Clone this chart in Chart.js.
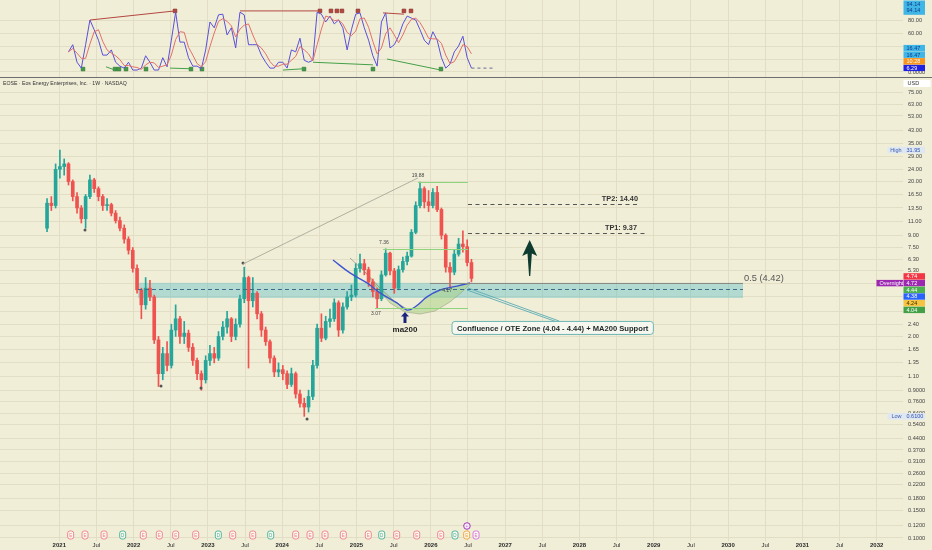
<!DOCTYPE html>
<html>
<head>
<meta charset="utf-8">
<title>EOSE · Eos Energy Enterprises, Inc. · 1W</title>
<script src="https://cdn.jsdelivr.net/npm/chart.js@4.4.1/dist/chart.umd.min.js"></script>
<style>
  html, body { margin:0; padding:0; width:932px; height:550px; overflow:hidden; background:#f1eed8; }
  .pane { position:absolute; left:0; width:932px; }
  #oscPane { top:0; height:77px; }
  #mainPane { top:78px; height:472px; }
  #sep { position:absolute; left:0; top:77px; width:932px; height:1px; background:#6e6e6e; }
  #hdr { position:absolute; left:3px; top:80px; font: 5.2px "Liberation Sans", Arial, sans-serif; color:#333; white-space:nowrap; }
</style>
</head>
<body>
<div id="oscPane" class="pane"><canvas id="osc"></canvas></div>
<div id="sep"></div>
<div id="mainPane" class="pane"><canvas id="main"></canvas></div>
<div id="hdr">EOSE · Eos Energy Enterprises, Inc. · 1W · NASDAQ</div>
<script>
// ---------------- DATA ----------------
const startYear = 2020.835;         // first candle (decimal year)
const stepYears = 3 / 52;           // one candle every three weeks

const opens = [
  10.0,14.5,14.0,24.0,25.0,26.0,20.0,16.0,13.5,11.5,
  16.0,20.5,18.0,16.0,14.0,14.2,12.5,11.2,10.0,8.5,
  7.2,5.5,4.0,3.2,4.1,3.6,1.9,1.15,1.55,1.3,
  2.2,2.6,2.0,2.1,1.7,1.4,1.15,1.05,1.4,1.55,
  1.45,2.0,2.3,2.6,2.0,2.4,3.5,4.8,3.4,3.8,
  2.8,2.2,1.85,1.45,1.18,1.22,1.15,0.98,1.15,0.85,
  0.74,0.70,0.82,1.3,2.26,1.95,2.5,2.6,3.3,2.2,
  3.1,3.6,3.7,5.5,5.9,5.4,4.5,3.9,3.5,5.0,
  6.9,5.3,4.1,5.4,6.1,6.6,9.4,14.0,18.0,14.8,
  14.0,17.0,13.2,9.0,5.6,5.2,6.8,7.9,7.6,6.0
];
const highs = [
  15.5,16.0,26.0,31.95,28.0,26.5,20.5,17.0,14.0,16.5,
  22.0,21.0,18.5,16.5,15.5,14.5,13.0,11.8,10.5,8.8,
  7.5,5.8,4.1,4.8,4.6,3.7,2.0,1.7,1.85,2.4,
  3.2,2.7,2.5,2.2,1.8,1.45,1.2,1.5,1.75,1.7,
  2.15,2.5,2.9,2.65,2.6,3.7,5.6,4.9,4.8,3.9,
  2.9,2.3,1.9,1.5,1.35,1.3,1.2,1.25,1.18,0.9,
  0.8,0.9,1.4,2.4,2.8,2.7,3.0,3.5,3.4,3.3,
  3.9,4.3,5.9,6.8,6.3,5.6,4.7,4.1,5.3,7.36,
  7.0,5.5,5.7,6.5,7.0,9.8,14.8,19.88,18.5,17.5,
  18.0,18.6,13.5,9.2,6.0,7.2,8.6,9.6,8.4,6.3
];
const lows = [
  9.5,13.0,13.5,21.0,22.0,19.0,15.0,12.5,10.8,10.0,
  15.5,17.0,15.0,13.0,13.0,12.0,10.8,9.6,8.0,6.8,
  5.2,3.8,2.6,3.0,3.4,1.8,0.95,1.05,1.2,1.25,
  2.0,1.8,1.8,1.6,1.3,1.05,0.9,1.0,1.3,1.35,
  1.4,1.9,2.1,1.85,1.9,2.3,3.3,1.25,3.1,2.6,
  2.0,1.75,1.35,1.1,1.1,1.05,0.92,0.95,0.8,0.7,
  0.61,0.65,0.78,1.25,1.85,1.9,2.3,2.5,2.0,2.1,
  3.0,3.4,3.6,5.2,5.0,4.2,3.6,3.07,3.4,4.9,
  5.0,3.8,4.0,5.2,5.8,6.5,9.2,13.5,13.5,12.8,
  13.5,12.8,8.5,5.2,4.17,5.0,6.6,7.0,5.7,4.5
];
const closes = [
  14.5,14.0,24.0,25.0,26.0,20.0,16.0,13.5,11.5,16.0,
  20.5,18.0,16.0,14.0,14.2,12.5,11.2,10.0,8.5,7.2,
  5.5,4.0,3.2,4.1,3.6,1.9,1.15,1.55,1.3,2.2,
  2.6,2.0,2.1,1.7,1.4,1.15,1.05,1.4,1.55,1.45,
  2.0,2.3,2.6,2.0,2.4,3.5,4.8,3.4,3.8,2.8,
  2.2,1.85,1.45,1.18,1.22,1.15,0.98,1.15,0.85,0.74,
  0.70,0.82,1.3,2.26,1.95,2.5,2.6,3.3,2.2,3.1,
  3.6,3.7,5.5,5.9,5.4,4.5,3.9,3.5,5.0,6.9,
  5.3,4.1,5.4,6.1,6.6,9.4,14.0,18.0,14.8,14.0,
  17.0,13.2,9.0,5.6,5.2,6.8,7.9,7.6,6.0,4.74
];

// oscillator (top pane), same candle dates
const oscK = [
  null,null,null,null,null, 31,42,15,6,42,
  80,65,49,26,26, 34,15,9,6,15,
  3,3,6,25,15, 3,3,22,8,49,
  92,46,46,22,9, 9,5,34,77,68,
  88,89,57,68,37, 92,88,42,42,42,
  26,15,6,6,15, 15,6,34,31,52,
  18,15,18,92,89, 77,86,74,80,68,
  34,65,89,91,68, 49,25,9,77,91,
  37,42,55,74,86, 83,80,65,49,42,
  62,49,22,6,12, 31,40,55,22,6
];
const oscD = [
  null,null,null,null,null, 31,36,29,21,21,
  43,62,65,47,34, 29,25,19,10,10,
  8,7,4,11,15, 14,7,9,11,26,
  50,62,61,38,26, 13,8,16,39,60,
  78,82,78,71,54, 66,72,74,57,42,
  37,28,16,9,9, 12,12,18,24,39,
  34,28,17,42,66, 86,84,79,80,74,
  61,56,63,82,83, 69,47,28,37,59,
  68,57,45,57,72, 81,83,76,65,52,
  51,51,44,26,13, 16,28,42,39,28
];
const buySignalYears  = [2021.319,2021.750,2021.803,2021.898,2022.167,2022.772,2022.920,2024.293,2025.221,2026.136];
const sellSignalYears = [2022.557,2024.508,2024.656,2024.736,2024.804,2025.019,2025.638,2025.733];
const buySignalLevel = 4.5, sellSignalLevel = 94;
const divergenceRed = [[2021.413,80,2022.557,94],[2023.432,94,2024.508,94],[2025.356,91,2025.638,89]];
const divergenceGreen = [[2021.628,8,2021.750,3],[2022.490,6,2022.772,5],[2024.010,3,2024.293,5],[2024.414,15,2025.221,11],[2025.410,20,2026.136,3]];
const oscTailEnd = 2026.863;
const oscTags = [ // value labels on the oscillator axis (bottom-up stack)
  {text:'6.29',  bg:'#2020e0', fg:'#ffffff'},
  {text:'10.28', bg:'#f7931e', fg:'#fff6e6'},
  {text:'16.47', bg:'#3fb6e6', fg:'#0d3d8c'},
  {text:'16.47', bg:'#3fb6e6', fg:'#0d3d8c'}
];
const oscTopTag = {value:94.14, bg:'#3fb6e6', fg:'#0d3d8c'};

// moving average 200 (drawn indicator)
const maYears  = [2024.683,2024.912,2025.141,2025.316,2025.544,2025.679,2025.786,2025.948,2026.123,2026.352,2026.527];
const maValues = [6.23,5.14,4.43,3.82,3.29,2.96,3.10,3.60,3.99,4.23,4.43];

// axis ticks
const xTickValues = [2021,2021.5,2022,2022.5,2023,2023.5,2024,2024.5,2025,2025.5,2026,2026.5,2027,2027.5,2028,2028.5,2029,2029.5,2030,2030.5,2031,2031.5,2032];
const priceTicks = [75,63,53,43,35,29,24,20,16.5,13.5,11,9,7.5,6.3,5.3,4.4,3.6,2.9,2.4,2.0,1.65,1.35,1.1,0.9,0.76,0.64,0.54,0.44,0.37,0.31,0.26,0.22,0.18,0.15,0.12,0.1];
const oscTicks = [80,60,40,20,0];
const oscTickLabels = ['80.00','60.00','','','0.0000'];

// drawings
const zone = {from:2022.059, to:2030.201, top:4.44, bottom:3.54, mid:4.04};
const halfLevel = {label:'0.5 (4.42)', value:4.42, from:2025.988, to:2030.201};
const targets = [
  {label:'TP2: 14.40', value:14.40, from:2026.500, to:2028.787, labelEnd:2028.787},
  {label:'TP1: 9.37',  value:9.37,  from:2026.500, to:2028.908, labelEnd:2028.774}
];
const fibLevels = [
  {value:19.88, from:2025.827, to:2026.500},
  {value:7.36,  from:2025.356, to:2026.500},
  {value:3.07,  from:2025.248, to:2026.500}
];
const fibLabels = [
  {text:'19.88', x:2025.827, v:22.0},
  {text:'7.36',  x:2025.369, v:8.03},
  {text:'3.07',  x:2025.261, v:2.79},
  {text:'4.17',  x:2026.218, v:3.93}
];
const trendLine = [[2023.472,5.87],[2025.827,21.1]];
const swingYears  = [2021.346,2022.369,2022.907,2023.472,2024.334];
const swingValues = [9.74,0.958,0.930,5.96,0.586];
const cupUpper = [[2025.114,5.22],[2025.316,4.11],[2025.518,3.34],[2025.679,2.96],[2025.786,3.10],[2025.948,3.60],[2026.123,3.99],[2026.352,4.23],[2026.527,4.43]];
const cupLower = [[2025.114,5.22],[2025.262,4.20],[2025.450,3.29],[2025.652,2.88],[2025.854,2.79],[2026.056,2.92],[2026.258,3.34],[2026.419,3.87],[2026.527,4.36]];
const cupGray  = [[2024.912,6.42],[2025.114,5.22],[2025.316,4.11],[2025.518,3.34],[2025.679,3.01]];
const upArrow = {x:2027.330, from:4.91, to:8.39, head:6.72};
const callout = {text:'Confluence / OTE Zone (4.04 - 4.44) + MA200 Support', x:2026.285, v:2.27};
const calloutPointer = [[2026.487,3.99],[2027.698,2.48]];
const maLabel = {text:'ma200', x:2025.652, v:2.20, arrowTip:2.88, arrowBase:2.44};
const earningsYears = [2021.153,2021.346,2021.602,2022.130,2022.346,2022.566,2022.836,2023.333,2023.603,2024.181,2024.374,2024.576,2024.822,2025.158,2025.540,2025.810,2026.132];
const dividendYears = [2021.853,2023.140,2023.845,2025.339,2026.325];
const upcomingEvents = [{x:2026.482, color:'#f0a030', letter:'E'},{x:2026.608, color:'#d46be0', letter:'E'}];
const newsEvent = {x:2026.486, color:'#9c27b0'};
const lastTags = [
  {value:4.74, bg:'#f23645', fg:'#ffffff'},
  {value:4.72, bg:'#9c27b0', fg:'#ffffff', prefix:'Overnight'},
  {value:4.44, bg:'#4caf50', fg:'#ffffff'},
  {value:4.38, bg:'#2962ff', fg:'#ffffff'},
  {value:4.24, bg:'#f6c343', fg:'#3a3000'},
  {value:4.04, bg:'#43a047', fg:'#ffffff'}
];
const highTag = {label:'High', value:31.95};
const lowTag  = {label:'Low',  value:0.61};

// ---------------- STYLE ----------------
const FONT = '"Liberation Sans", Arial, sans-serif';
const GRID = '#e2dec5';
const UP = '#26a69a', DOWN = '#ef5350';
const X_MIN = 2020.202, X_MAX = 2032.354;

const candleX = closes.map((c, i) => startYear + i * stepYears);
const isUp = i => closes[i] >= opens[i];
const colorOf = ctx => isUp(ctx.dataIndex) ? UP : DOWN;
const fmtPrice = v => v >= 1 ? v.toFixed(2) : v.toFixed(4);

function rr(ctx, x, y, w, h, r) {
  ctx.beginPath();
  ctx.moveTo(x + r, y);
  ctx.arcTo(x + w, y, x + w, y + h, r);
  ctx.arcTo(x + w, y + h, x, y + h, r);
  ctx.arcTo(x, y + h, x, y, r);
  ctx.arcTo(x, y, x + w, y, r);
  ctx.closePath();
}
function tag(ctx, x, cy, w, h, bg, fg, text, size) {
  ctx.fillStyle = bg;
  ctx.fillRect(x, cy - h / 2, w, h);
  ctx.fillStyle = fg;
  ctx.font = size + 'px ' + FONT;
  ctx.textBaseline = 'middle';
  ctx.textAlign = 'left';
  ctx.fillText(text, x + 3, cy + 0.4);
}

const xScaleBase = () => ({
  type: 'linear', min: X_MIN, max: X_MAX, offset: false,
  afterBuildTicks: s => { s.ticks = xTickValues.map(v => ({value: v})); },
  grid: {color: GRID, lineWidth: 1, drawTicks: false, offset: false},
  border: {display: false}
});

// ---------------- OSCILLATOR PANE ----------------
const oscOverlay = {
  id: 'oscOverlay',
  afterDraw(chart) {
    const {ctx, scales: {y}} = chart;
    const left = y.left + 0.5, w = 21.5, h = 6.4;
    ctx.save();
    ctx.font = '5.6px ' + FONT; ctx.fillStyle = '#444'; ctx.textAlign = 'left'; ctx.textBaseline = 'middle';
    oscTicks.forEach((v, i) => { if (oscTickLabels[i]) ctx.fillText(oscTickLabels[i], y.left + 5, y.getPixelForValue(v)); });
    const pTop = y.getPixelForValue(oscTopTag.value);
    ctx.fillStyle = oscTopTag.bg;
    ctx.fillRect(left, 0.5, w, pTop + 3.5);
    ctx.fillStyle = oscTopTag.fg;
    ctx.font = '5.5px ' + FONT;
    ctx.fillText(oscTopTag.value.toFixed(2), left + 3, pTop - 6.2);
    ctx.fillText(oscTopTag.value.toFixed(2), left + 3, pTop);
    let cy = y.getPixelForValue(6.29);
    oscTags.forEach(t => { tag(ctx, left, cy, w, h, t.bg, t.fg, t.text, 5.5); cy -= 6.6; });
    ctx.restore();
  }
};

const oscDatasets = [];
divergenceRed.forEach(d => oscDatasets.push({data: [{x: d[0], y: d[1]}, {x: d[2], y: d[3]}], borderColor: '#b2473f', borderWidth: 1, pointRadius: 0}));
divergenceGreen.forEach(d => oscDatasets.push({data: [{x: d[0], y: d[1]}, {x: d[2], y: d[3]}], borderColor: '#43a047', borderWidth: 1, pointRadius: 0}));
oscDatasets.push({data: candleX.map((x, i) => ({x, y: oscD[i]})), borderColor: '#e0706a', borderWidth: 1, pointRadius: 0});
oscDatasets.push({data: candleX.map((x, i) => ({x, y: oscK[i]})), borderColor: '#5a4fd8', borderWidth: 1, pointRadius: 0});
oscDatasets.push({data: [{x: candleX[candleX.length - 1], y: oscK[oscK.length - 1]}, {x: oscTailEnd, y: oscK[oscK.length - 1]}], borderColor: '#6a6a90', borderWidth: 1, borderDash: [3, 3], pointRadius: 0});
oscDatasets.push({type: 'scatter', data: buySignalYears.map(x => ({x, y: buySignalLevel})), pointStyle: 'rect', pointRadius: 2.6, hoverRadius: 2.6, backgroundColor: '#3f9b45', borderColor: '#2b6e30', borderWidth: 0.6});
oscDatasets.push({type: 'scatter', data: sellSignalYears.map(x => ({x, y: sellSignalLevel})), pointStyle: 'rect', pointRadius: 2.6, hoverRadius: 2.6, backgroundColor: '#b8453e', borderColor: '#7d2a25', borderWidth: 0.6});

new Chart(document.getElementById('osc'), {
  type: 'line',
  data: {datasets: oscDatasets},
  options: {
    responsive: true, maintainAspectRatio: false, animation: false,
    layout: {padding: 0, autoPadding: false},
    plugins: {legend: {display: false}, tooltip: {enabled: false}},
    scales: {
      x: Object.assign(xScaleBase(), {
        ticks: {display: false},
        afterFit: s => { s.height = 0; s.paddingLeft = 0; s.paddingRight = 0; }
      }),
      y: {
        type: 'linear', position: 'right', min: -7.7, max: 110.8,
        afterBuildTicks: s => { s.ticks = oscTicks.map(v => ({value: v})); },
        ticks: {display: false},
        grid: {color: GRID, drawTicks: false},
        border: {display: false},
        afterFit: s => { s.width = 29; s.paddingTop = 0; s.paddingBottom = 0; }
      }
    }
  },
  plugins: [oscOverlay]
});

// ---------------- MAIN PANE ----------------
const mainOverlay = {
  id: 'mainOverlay',
  beforeDatasetsDraw(chart) {
    const {ctx, chartArea: a, scales: {x, y}} = chart;
    const px = v => x.getPixelForValue(v), py = v => y.getPixelForValue(v);
    ctx.save();
    ctx.beginPath(); ctx.rect(a.left, a.top, a.right - a.left, a.bottom - a.top); ctx.clip();
    ctx.fillStyle = 'rgba(68,184,198,0.36)';
    ctx.fillRect(px(zone.from), py(zone.top), px(zone.to) - px(zone.from), py(zone.bottom) - py(zone.top));
    ctx.beginPath();
    cupUpper.forEach(([t, v], i) => i ? ctx.lineTo(px(t), py(v)) : ctx.moveTo(px(t), py(v)));
    for (let i = cupLower.length - 1; i >= 0; i--) ctx.lineTo(px(cupLower[i][0]), py(cupLower[i][1]));
    ctx.closePath();
    ctx.fillStyle = 'rgba(165,208,130,0.5)';
    ctx.fill();
    ctx.beginPath();
    cupLower.forEach(([t, v], i) => i ? ctx.lineTo(px(t), py(v)) : ctx.moveTo(px(t), py(v)));
    ctx.strokeStyle = 'rgba(140,150,120,0.7)'; ctx.lineWidth = 0.7; ctx.stroke();
    ctx.beginPath();
    cupGray.forEach(([t, v], i) => i ? ctx.lineTo(px(t), py(v)) : ctx.moveTo(px(t), py(v)));
    ctx.strokeStyle = 'rgba(130,130,120,0.8)'; ctx.lineWidth = 0.8; ctx.stroke();
    ctx.restore();
  },
  afterDatasetsDraw(chart) {
    const {ctx, chartArea: a, scales: {x, y}} = chart;
    const px = v => x.getPixelForValue(v), py = v => y.getPixelForValue(v);
    ctx.save();
    ctx.beginPath(); ctx.rect(a.left, a.top, a.right - a.left, a.bottom - a.top); ctx.clip();
    const hline = (v, x0, x1, color, dash, w) => {
      ctx.beginPath(); ctx.setLineDash(dash || []); ctx.strokeStyle = color; ctx.lineWidth = w || 1;
      const yy = Math.round(py(v)) + 0.5;
      ctx.moveTo(px(x0), yy); ctx.lineTo(px(x1), yy); ctx.stroke(); ctx.setLineDash([]);
    };
    hline(zone.mid, zone.from, zone.to, '#3d6d86', [4, 3], 1);
    hline(halfLevel.value, halfLevel.from, halfLevel.to, '#8a8a80', null, 1);
    ctx.font = '9.3px ' + FONT; ctx.fillStyle = '#555'; ctx.textAlign = 'left'; ctx.textBaseline = 'alphabetic';
    ctx.fillText(halfLevel.label, px(halfLevel.to) + 1, py(halfLevel.value) - 2);
    fibLevels.forEach(f => hline(f.value, f.from, f.to, '#8fd47c', null, 1));
    ctx.beginPath(); ctx.strokeStyle = '#a09f90'; ctx.lineWidth = 0.8;
    ctx.moveTo(px(trendLine[0][0]), py(trendLine[0][1])); ctx.lineTo(px(trendLine[1][0]), py(trendLine[1][1])); ctx.stroke();
    ctx.font = '5px ' + FONT; ctx.fillStyle = '#444'; ctx.textAlign = 'center'; ctx.textBaseline = 'middle';
    fibLabels.forEach(l => ctx.fillText(l.text, px(l.x), py(l.v)));
    targets.forEach(t => {
      hline(t.value, t.from, t.to, '#555', [4, 3.5], 1);
      ctx.font = 'bold 7.3px ' + FONT; ctx.fillStyle = '#333'; ctx.textAlign = 'right'; ctx.textBaseline = 'alphabetic';
      ctx.fillText(t.label, px(t.labelEnd), py(t.value) - 3);
    });
    const ax = px(upArrow.x), tip = py(upArrow.to), head = py(upArrow.head), base = py(upArrow.from);
    ctx.beginPath();
    ctx.moveTo(ax, tip);
    ctx.lineTo(ax + 7.5, head + 1);
    ctx.lineTo(ax + 2.2, head - 1.5);
    ctx.lineTo(ax + 0.6, base);
    ctx.lineTo(ax - 0.6, base);
    ctx.lineTo(ax - 2.2, head - 1.5);
    ctx.lineTo(ax - 7.5, head + 1);
    ctx.closePath();
    ctx.fillStyle = '#0e3b2f'; ctx.fill();
    const p0 = [px(calloutPointer[0][0]), py(calloutPointer[0][1])], p1 = [px(calloutPointer[1][0]), py(calloutPointer[1][1])];
    ctx.strokeStyle = '#5aaab3'; ctx.lineWidth = 0.9;
    ctx.beginPath(); ctx.moveTo(p0[0], p0[1]); ctx.lineTo(p1[0], p1[1]); ctx.stroke();
    ctx.beginPath(); ctx.moveTo(p0[0] + 1, p0[1] - 2); ctx.lineTo(p1[0] + 2, p1[1] - 1); ctx.stroke();
    ctx.font = 'bold 7.6px ' + FONT;
    const tw = ctx.measureText(callout.text).width;
    const bx = px(callout.x), by = py(callout.v);
    rr(ctx, bx, by - 6.5, tw + 10, 13, 3);
    ctx.fillStyle = '#f6f7ef'; ctx.fill();
    ctx.strokeStyle = '#6cb6b4'; ctx.lineWidth = 1; ctx.stroke();
    ctx.fillStyle = '#1d2626'; ctx.textAlign = 'left'; ctx.textBaseline = 'middle';
    ctx.fillText(callout.text, bx + 5, by + 0.5);
    const mx = px(maLabel.x), mt = py(maLabel.arrowTip), mb = py(maLabel.arrowBase);
    ctx.beginPath();
    ctx.moveTo(mx, mt); ctx.lineTo(mx + 4, mt + 4.5); ctx.lineTo(mx + 1.5, mt + 4.5); ctx.lineTo(mx + 1.5, mb);
    ctx.lineTo(mx - 1.5, mb); ctx.lineTo(mx - 1.5, mt + 4.5); ctx.lineTo(mx - 4, mt + 4.5); ctx.closePath();
    ctx.fillStyle = '#1a237e'; ctx.fill();
    ctx.font = 'bold 8px ' + FONT; ctx.fillStyle = '#1f1f1f'; ctx.textAlign = 'center'; ctx.textBaseline = 'middle';
    ctx.fillText(maLabel.text, mx, py(maLabel.v));
    // event icons just above the time axis
    const ey = a.bottom - 6;
    const icon = (xv, color, letter, yy) => {
      const cx = px(xv);
      rr(ctx, cx - 3, yy - 4, 6, 8, 2.2);
      ctx.fillStyle = 'rgba(255,255,250,0.6)'; ctx.fill();
      ctx.strokeStyle = color; ctx.lineWidth = 0.9; ctx.stroke();
      ctx.fillStyle = color; ctx.font = '4.5px ' + FONT; ctx.textAlign = 'center'; ctx.textBaseline = 'middle';
      ctx.fillText(letter, cx, yy + 0.3);
    };
    earningsYears.forEach(v => icon(v, '#ee7b86', 'E', ey));
    dividendYears.forEach(v => icon(v, '#3fae98', 'D', ey));
    upcomingEvents.forEach(e => icon(e.x, e.color, e.letter, ey));
    const nx = px(newsEvent.x), ny = a.bottom - 15;
    ctx.beginPath(); ctx.arc(nx, ny, 3.3, 0, Math.PI * 2);
    ctx.fillStyle = '#f3e8f6'; ctx.fill(); ctx.strokeStyle = newsEvent.color; ctx.lineWidth = 0.9; ctx.stroke();
    ctx.fillStyle = newsEvent.color; ctx.font = '4px ' + FONT; ctx.fillText('+', nx, ny + 0.2);
    ctx.restore();
  },
  afterDraw(chart) {
    const {ctx, scales: {y}} = chart;
    const left = y.left + 0.5, w = 21.5, h = 6.4;
    ctx.save();
    ctx.fillStyle = '#ffffff'; ctx.fillRect(left, 2, 27, 7);
    ctx.fillStyle = '#333'; ctx.font = '5.5px ' + FONT; ctx.textAlign = 'left'; ctx.textBaseline = 'middle';
    ctx.fillText('USD', left + 4, 5.8);
    [highTag, lowTag].forEach(t => {
      const cy = y.getPixelForValue(t.value);
      ctx.fillStyle = '#dfe7f1'; ctx.fillRect(left - 16, cy - 3.3, 16 + w, 6.6);
      ctx.fillStyle = '#4060b0'; ctx.font = '5.5px ' + FONT; ctx.textAlign = 'right'; ctx.textBaseline = 'middle';
      ctx.fillText(t.label, left - 2, cy + 0.4);
      ctx.textAlign = 'left'; ctx.fillStyle = '#2a4fb5';
      ctx.fillText(fmtPrice(t.value), left + 3, cy + 0.4);
    });
    let cy = y.getPixelForValue(lastTags[0].value) - 2;
    lastTags.forEach(t => {
      tag(ctx, left, cy, w, h, t.bg, t.fg, t.value.toFixed(2), 5.5);
      if (t.prefix) tag(ctx, left - 27, cy, 26.5, h, t.bg, t.fg, t.prefix, 5.5);
      cy += 6.7;
    });
    ctx.restore();
  }
};

new Chart(document.getElementById('main'), {
  type: 'bar',
  data: {
    datasets: [
      {type: 'bar', data: candleX.map((x, i) => ({x, y: [lows[i], highs[i]]})), backgroundColor: colorOf, barThickness: 1, grouped: false, order: 4},
      {type: 'bar', data: candleX.map((x, i) => ({x, y: [Math.min(opens[i], closes[i]), Math.max(opens[i], closes[i])]})), backgroundColor: colorOf, barThickness: 3, grouped: false, order: 3},
      {type: 'line', data: maYears.map((x, i) => ({x, y: maValues[i]})), borderColor: '#3f55d0', borderWidth: 1.4, pointRadius: 0, tension: 0.4, order: 1},
      {type: 'scatter', data: swingYears.map((x, i) => ({x, y: swingValues[i]})), pointRadius: 1.5, hoverRadius: 1.5, backgroundColor: '#555', borderWidth: 0, order: 0}
    ]
  },
  options: {
    responsive: true, maintainAspectRatio: false, animation: false,
    layout: {padding: {top: 2, left: 0, right: 0, bottom: 0}, autoPadding: false},
    plugins: {legend: {display: false}, tooltip: {enabled: false}},
    scales: {
      x: Object.assign(xScaleBase(), {
        ticks: {
          callback: v => Number.isInteger(v) ? String(v) : 'Jul',
          font: c => ({size: 6, family: FONT, weight: (c.tick && Number.isInteger(c.tick.value)) ? 'bold' : 'normal'}),
          color: '#2b2b2b', maxRotation: 0, autoSkip: false, padding: 1
        },
        afterFit: s => { s.height = 9; s.paddingLeft = 0; s.paddingRight = 0; }
      }),
      y: {
        type: 'logarithmic', position: 'right', min: 0.0956, max: 90.5,
        afterBuildTicks: s => { s.ticks = priceTicks.map(v => ({value: v})); },
        ticks: {
          callback: v => fmtPrice(v),
          font: {size: 5.6, family: FONT}, color: '#444', crossAlign: 'near', padding: 5, autoSkip: false
        },
        grid: {color: GRID, drawTicks: false},
        border: {display: false},
        afterFit: s => { s.width = 29; s.paddingTop = 0; s.paddingBottom = 0; }
      }
    }
  },
  plugins: [mainOverlay]
});
</script>
</body>
</html>
